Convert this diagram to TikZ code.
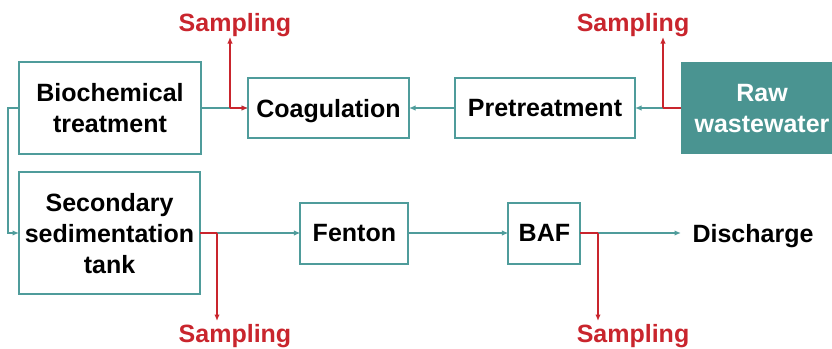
\documentclass[tikz,border=0pt]{standalone}
\usepackage{fontspec}
\setmainfont{Liberation Sans}
\usetikzlibrary{arrows.meta}
\definecolor{tealline}{HTML}{4F9C9B}
\definecolor{tealfill}{HTML}{4A9491}
\definecolor{redline}{HTML}{C9252D}
\tikzset{
  x=1pt,y=-1pt,
  lbl/.style={font=\fontsize{25}{31}\selectfont\bfseries,align=center,inner sep=0pt,outer sep=0pt,text depth=0pt},
  boxnode/.style={lbl,draw=tealline,line width=2pt,fill=white,text=black,minimum width=#1,anchor=center},
  rawnode/.style={fill=tealfill,inner sep=0pt,outer sep=0pt,minimum width=151pt,minimum height=92pt},
  rawtext/.style={lbl,text=white},
  samp/.style={lbl,text=redline},
  plain/.style={lbl,text=black},
  flow/.style={draw=tealline,line width=1.5pt,-{Latex[length=6.5pt,width=5.5pt]}},
  probe/.style={draw=redline,line width=1.7pt,-{Latex[length=6.5pt,width=5.5pt]}},
  probeline/.style={draw=redline,line width=1.7pt},
}
\begin{document}
\begin{tikzpicture}
\useasboundingbox (0,0) rectangle (832,348);
% boxes
\node[boxnode=182pt,minimum height=92pt] (bio) at (110,108) {Biochemical\\treatment};
\node[boxnode=161pt,minimum height=60pt] (coag) at (328.5,108) {Coagulation};
\node[boxnode=180pt,minimum height=60pt] (pre) at (545,108) {Pretreatment};
\node[rawnode] (raw) at (756.5,108) {};
\node[rawtext] (rawlabel) at (762,108) {Raw\\wastewater};
\node[boxnode=181pt,minimum height=122pt] (sec) at (109.5,233) {Secondary\\sedimentation\\tank};
\node[boxnode=108pt,minimum height=61pt] (fenton) at (354.4,233.3) {Fenton};
\node[boxnode=72pt,minimum height=61pt] (baf) at (544.4,233.3) {BAF};
\node[plain] (dis) at (753,233) {Discharge};
% sampling labels
\node[samp] (s1) at (235,22) {Sampling};
\node[samp] (s2) at (633,22) {Sampling};
\node[samp] (s3) at (235,333.5) {Sampling};
\node[samp] (s4) at (633,333.5) {Sampling};
% junctions and free ends
\coordinate (j1) at (230,108);
\coordinate (e1) at (230,37);
\coordinate (j2) at (663,108);
\coordinate (e2) at (663,37);
\coordinate (j3) at (217,233);
\coordinate (e3) at (217,321);
\coordinate (j4) at (598,233);
\coordinate (e4) at (598,321);
\coordinate (l1) at (8,108);
\coordinate (l2) at (8,233);
\coordinate (d1) at (681,233);
% teal connectors
\draw[flow] (bio.east) -- (coag.west);
\draw[flow] (pre.west) -- (coag.east);
\draw[flow] (raw.west) -- (pre.east);
\draw[flow] (bio.west) -- (l1) -- (l2) -- (sec.west);
\draw[flow] (sec.east) -- (sec.east -| fenton.west);
\draw[flow] (sec.east -| fenton.east) -- (sec.east -| baf.west);
\draw[flow] (sec.east -| baf.east) -- (d1);
% red connectors
\draw[probe] (j1) -- (e1);
\draw[probe] (j1) -- (coag.west);
\draw[probe] (j2) -- (e2);
\draw[probeline] (raw.west) -- (j2);
\draw[probeline] (sec.east) -- (j3);
\draw[probe] (j3) -- (e3);
\draw[probeline] (sec.east -| baf.east) -- (j4);
\draw[probe] (j4) -- (e4);
\end{tikzpicture}
\end{document}
